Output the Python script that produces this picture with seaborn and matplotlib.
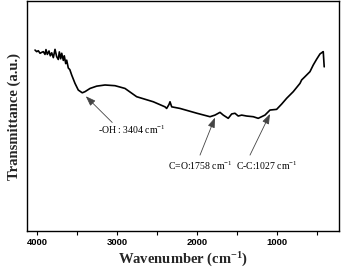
import matplotlib
matplotlib.use("Agg")
import matplotlib.pyplot as plt
import seaborn as sns
import pandas as pd

wavenumber = [4025, 4004, 3984, 3962, 3941, 3921, 3900, 3888, 3871, 3850, 3834, 3816,
              3796, 3775, 3754, 3734, 3721, 3704, 3691, 3671, 3659, 3641, 3629, 3609,
              3590, 3566, 3525, 3484, 3434, 3400, 3337, 3254, 3150, 3025, 2962, 2900, 2754,
              2546, 2400, 2379, 2350, 2337, 2316, 2212, 2000, 1837, 1775, 1712, 1671,
              1609, 1566, 1525, 1484, 1441, 1379, 1296, 1234, 1150, 1087, 1004, 941,
              879, 796, 712, 691, 650, 587, 546, 504, 462, 434, 421, 409]
transmittance = [78.7, 78.0, 78.4, 77.3, 77.7, 78.0, 76.8, 78.9, 76.8, 78.3, 76.2, 77.5,
                 75.4, 79.0, 75.8, 74.6, 77.9, 74.9, 77.3, 74.2, 76.2, 72.8, 74.3, 70.9,
                 70.2, 67.8, 64.2, 61.3, 60.1, 60.6, 62.0, 63.0, 63.5, 63.2, 62.6, 62.0, 58.4,
                 56.2, 54.0, 53.3, 55.0, 56.2, 54.0, 53.3, 51.2, 49.7, 50.4, 51.6, 50.4,
                 49.0, 50.9, 51.2, 50.0, 50.4, 50.0, 49.7, 49.0, 50.4, 52.6, 52.9, 55.2,
                 57.7, 60.6, 64.2, 65.7, 67.1, 69.3, 72.2, 74.7, 77.0, 77.7, 78.0, 71.4]

x_ticks = [4000, 3000, 2000, 1000]
x_tick_labels = ["4000", "3000", "2000", "1000"]

annot_labels = ["-OH : 3404 cm$^{-1}$", "C=O:1758 cm$^{-1}$", "C-C:1027 cm$^{-1}$"]
annot_targets = [(3390, 58.6), (1775, 49.3), (1087, 50.9)]
annot_tails = [(3060, 47.2), (1962, 33.0), (1337, 33.0)]
annot_text_pos = [(2810, 44.0), (1962, 28.2), (1130, 28.2)]

df = pd.DataFrame({"wavenumber": wavenumber, "transmittance": transmittance})

sns.set_theme(style="ticks")
plt.rcParams["font.family"] = ["Liberation Serif", "DejaVu Serif"]
plt.rcParams["mathtext.fontset"] = "custom"
plt.rcParams["mathtext.rm"] = "Liberation Serif"
plt.rcParams["mathtext.bf"] = "Liberation Serif:bold"
plt.rcParams["mathtext.it"] = "Liberation Serif:italic"

fig, ax = plt.subplots(figsize=(3.42, 2.73), dpi=100)
fig.subplots_adjust(left=0.079, right=0.991, bottom=0.154, top=0.996)

sns.lineplot(data=df, x="wavenumber", y="transmittance", sort=False,
             color="black", linewidth=1.2, ax=ax)

ax.set_xlim(4125, 225)
ax.set_ylim(0, 100)
ax.set_xticks(x_ticks)
ax.set_xticklabels(x_tick_labels, fontfamily="Liberation Sans", fontweight="bold", fontsize=6.8)
ax.set_xticks([3500, 2500, 1500, 500], minor=True)
ax.tick_params(axis="x", which="both", direction="out", length=3, width=0.8, pad=2,
               colors="black")
ax.set_yticks([])
for s in ax.spines.values():
    s.set_color("black")
    s.set_linewidth(1.0)
    s.set_visible(True)

ax.set_xlabel("Wavenumber (cm$^{\\mathbf{-1}}$)", fontsize=10.5, fontweight="bold", labelpad=3)
ax.set_ylabel("Transmittance (a.u.)", fontsize=10.5, fontweight="bold", labelpad=4)

for lab, tgt, tail, tp in zip(annot_labels, annot_targets, annot_tails, annot_text_pos):
    ax.annotate("", xy=tgt, xytext=tail,
                arrowprops=dict(arrowstyle="-|>,head_length=0.5,head_width=0.18",
                                color="#444444", lw=0.6, shrinkA=0, shrinkB=0))
    ax.text(tp[0], tp[1], lab, fontsize=7, ha="center", va="center", color="black")

fig.savefig("out.png", dpi=100)
